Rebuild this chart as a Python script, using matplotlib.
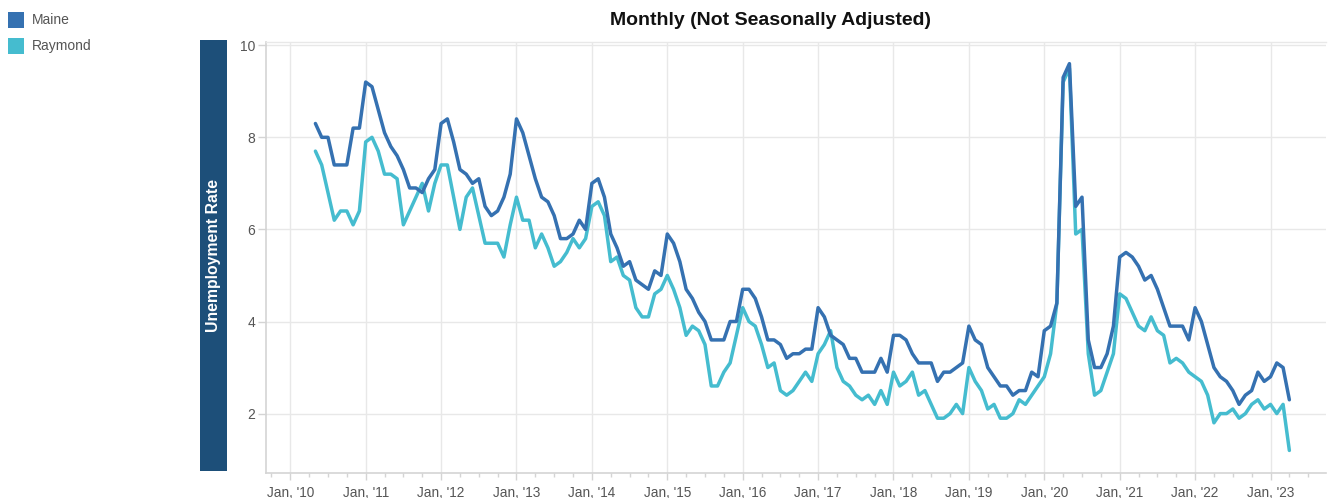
import matplotlib
matplotlib.use("Agg")
import matplotlib.pyplot as plt
from matplotlib.patches import Rectangle
from matplotlib.ticker import FixedLocator, MultipleLocator
import numpy as np

# Monthly unemployment rate (not seasonally adjusted), May 2010 - Apr 2023
first_year, first_month = 2010, 5

maine = [
    8.3, 8.0, 8.0, 7.4, 7.4, 7.4, 8.2, 8.2,                      # 2010 (May-Dec)
    9.2, 9.1, 8.6, 8.1, 7.8, 7.6, 7.3, 6.9, 6.9, 6.8, 7.1, 7.3,  # 2011
    8.3, 8.4, 7.9, 7.3, 7.2, 7.0, 7.1, 6.5, 6.3, 6.4, 6.7, 7.2,  # 2012
    8.4, 8.1, 7.6, 7.1, 6.7, 6.6, 6.3, 5.8, 5.8, 5.9, 6.2, 6.0,  # 2013
    7.0, 7.1, 6.7, 5.9, 5.6, 5.2, 5.3, 4.9, 4.8, 4.7, 5.1, 5.0,  # 2014
    5.9, 5.7, 5.3, 4.7, 4.5, 4.2, 4.0, 3.6, 3.6, 3.6, 4.0, 4.0,  # 2015
    4.7, 4.7, 4.5, 4.1, 3.6, 3.6, 3.5, 3.2, 3.3, 3.3, 3.4, 3.4,  # 2016
    4.3, 4.1, 3.7, 3.6, 3.5, 3.2, 3.2, 2.9, 2.9, 2.9, 3.2, 2.9,  # 2017
    3.7, 3.7, 3.6, 3.3, 3.1, 3.1, 3.1, 2.7, 2.9, 2.9, 3.0, 3.1,  # 2018
    3.9, 3.6, 3.5, 3.0, 2.8, 2.6, 2.6, 2.4, 2.5, 2.5, 2.9, 2.8,  # 2019
    3.8, 3.9, 4.4, 9.3, 9.6, 6.5, 6.7, 3.6, 3.0, 3.0, 3.3, 3.9,  # 2020
    5.4, 5.5, 5.4, 5.2, 4.9, 5.0, 4.7, 4.3, 3.9, 3.9, 3.9, 3.6,  # 2021
    4.3, 4.0, 3.5, 3.0, 2.8, 2.7, 2.5, 2.2, 2.4, 2.5, 2.9, 2.7,  # 2022
    2.8, 3.1, 3.0, 2.3,                                          # 2023 (Jan-Apr)
]

raymond = [
    7.7, 7.4, 6.8, 6.2, 6.4, 6.4, 6.1, 6.4,                      # 2010 (May-Dec)
    7.9, 8.0, 7.7, 7.2, 7.2, 7.1, 6.1, 6.4, 6.7, 7.0, 6.4, 7.0,  # 2011
    7.4, 7.4, 6.7, 6.0, 6.7, 6.9, 6.3, 5.7, 5.7, 5.7, 5.4, 6.1,  # 2012
    6.7, 6.2, 6.2, 5.6, 5.9, 5.6, 5.2, 5.3, 5.5, 5.8, 5.6, 5.8,  # 2013
    6.5, 6.6, 6.3, 5.3, 5.4, 5.0, 4.9, 4.3, 4.1, 4.1, 4.6, 4.7,  # 2014
    5.0, 4.7, 4.3, 3.7, 3.9, 3.8, 3.5, 2.6, 2.6, 2.9, 3.1, 3.7,  # 2015
    4.3, 4.0, 3.9, 3.5, 3.0, 3.1, 2.5, 2.4, 2.5, 2.7, 2.9, 2.7,  # 2016
    3.3, 3.5, 3.8, 3.0, 2.7, 2.6, 2.4, 2.3, 2.4, 2.2, 2.5, 2.2,  # 2017
    2.9, 2.6, 2.7, 2.9, 2.4, 2.5, 2.2, 1.9, 1.9, 2.0, 2.2, 2.0,  # 2018
    3.0, 2.7, 2.5, 2.1, 2.2, 1.9, 1.9, 2.0, 2.3, 2.2, 2.4, 2.6,  # 2019
    2.8, 3.3, 4.4, 9.2, 9.5, 5.9, 6.0, 3.3, 2.4, 2.5, 2.9, 3.3,  # 2020
    4.6, 4.5, 4.2, 3.9, 3.8, 4.1, 3.8, 3.7, 3.1, 3.2, 3.1, 2.9,  # 2021
    2.8, 2.7, 2.4, 1.8, 2.0, 2.0, 2.1, 1.9, 2.0, 2.2, 2.3, 2.1,  # 2022
    2.2, 2.0, 2.2, 1.2,                                          # 2023 (Jan-Apr)
]

series_names = ["Maine", "Raymond"]
series_colors = ["#3571b1", "#45bccf"]
tick_years = list(range(2010, 2024))
y_ticks = [2, 4, 6, 8, 10]

# decimal-year position of each month
months = first_year + (first_month - 1 + np.arange(len(maine))) / 12.0

W, H = 1341, 498
fig = plt.figure(figsize=(W / 100, H / 100), dpi=100)
fig.patch.set_facecolor("white")
plt.rcParams["font.family"] = ["Liberation Sans", "DejaVu Sans"]

left, right, top, bottom = 266, 1326, 42, 473
ax = fig.add_axes([left / W, 1 - bottom / H, (right - left) / W, (bottom - top) / H])

grid_c = "#e8e8e8"
axis_c = "#d4d4d4"
text_c = "#555555"

ax.plot(months, raymond, color=series_colors[1], lw=2.5, solid_joinstyle="round",
        solid_capstyle="round", zorder=3)
ax.plot(months, maine, color=series_colors[0], lw=2.5, solid_joinstyle="round",
        solid_capstyle="round", zorder=4)

ax.set_xlim(2009.678, 2023.736)
ax.set_ylim(0.71, 10.07)

ax.xaxis.set_major_locator(FixedLocator(tick_years))
ax.set_xticklabels([f"Jan, '{y % 100:02d}" for y in tick_years])
ax.xaxis.set_minor_locator(MultipleLocator(0.25))
ax.yaxis.set_major_locator(FixedLocator(y_ticks))
ax.set_yticklabels([str(v) for v in y_ticks])

ax.grid(True, which="major", color=grid_c, lw=1.0, zorder=0)
ax.set_axisbelow(True)

ax.tick_params(axis="x", which="major", length=5, width=1, color=axis_c,
               labelsize=9.8, labelcolor=text_c, pad=4)
ax.tick_params(axis="x", which="minor", length=3, width=1, color=axis_c)
ax.tick_params(axis="y", which="major", length=6, width=1, color=axis_c,
               labelsize=10, labelcolor=text_c, pad=2)

for side in ("left", "bottom"):
    ax.spines[side].set_color(axis_c)
    ax.spines[side].set_linewidth(1.2)
ax.spines["top"].set_color(grid_c)
ax.spines["top"].set_linewidth(1.0)
ax.spines["right"].set_visible(False)

# dark band carrying the y-axis title
band = Rectangle((200 / W, 1 - 471 / H), 27 / W, (471 - 40) / H,
                 transform=fig.transFigure, facecolor="#1d4f79", edgecolor="none")
fig.patches.append(band)
fig.text(213.5 / W, 1 - 255 / H, "Unemployment Rate", rotation=90, color="white",
         fontsize=11.3, fontweight="bold", ha="center", va="center")

# title
fig.text(770 / W, 1 - 20 / H, "Monthly (Not Seasonally Adjusted)", fontsize=14,
         fontweight="bold", color="#111111", ha="center", va="center")

# legend
for i, (name, col) in enumerate(zip(series_names, series_colors)):
    y0 = 12 + i * 26
    sq = Rectangle((8 / W, 1 - (y0 + 16) / H), 16 / W, 16 / H,
                   transform=fig.transFigure, facecolor=col, edgecolor="none")
    fig.patches.append(sq)
    fig.text(32 / W, 1 - (y0 + 8) / H, name, fontsize=10, color=text_c,
             ha="left", va="center")

fig.savefig("out.png", dpi=100, facecolor="white")
